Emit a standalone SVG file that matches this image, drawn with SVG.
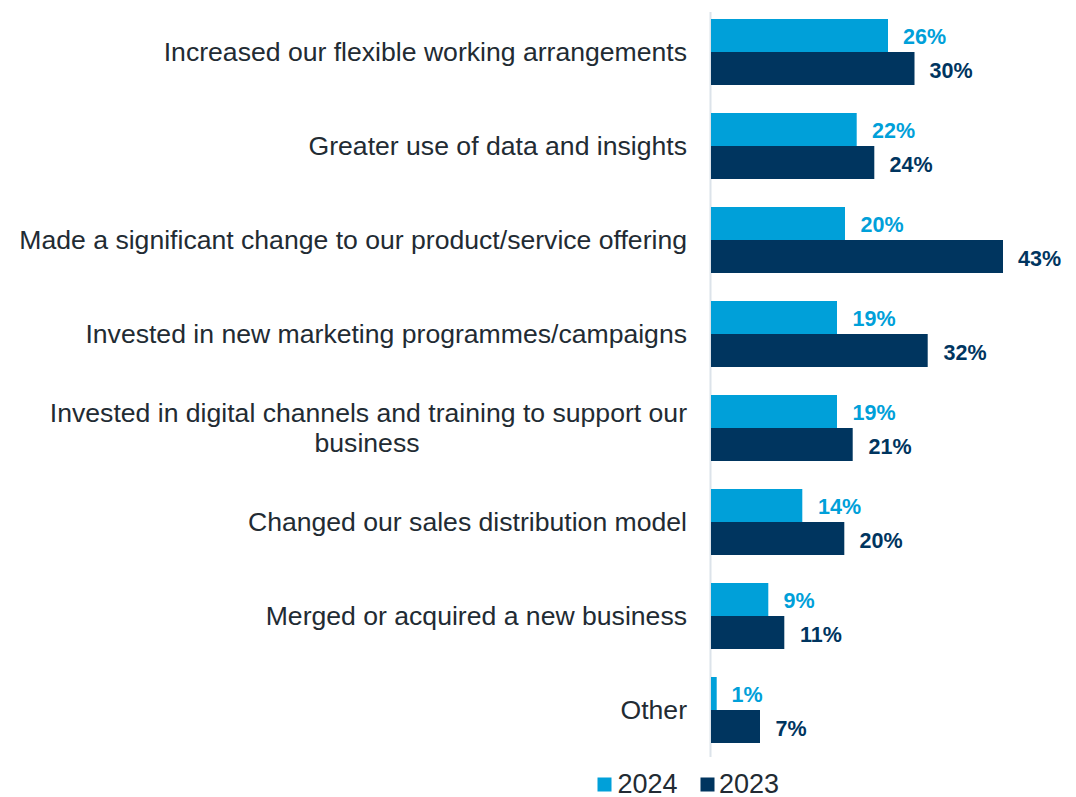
<svg xmlns="http://www.w3.org/2000/svg" width="1076" height="797" viewBox="0 0 1076 797">
<style>
.cat{font-family:"Liberation Sans",Arial,sans-serif;font-size:26.6px;fill:#222b33;text-anchor:end}
.val{font-family:"Liberation Sans",Arial,sans-serif;font-size:21.5px;font-weight:bold}
.v24{fill:#00a0d9}
.v23{fill:#00355f}
.b24{fill:#00a0d9}
.b23{fill:#00355f}
.leg{font-family:"Liberation Sans",Arial,sans-serif;font-size:27px;fill:#222b33}
</style>
<rect width="1076" height="797" fill="#ffffff"/>
<g id="axis"><line x1="710.5" y1="12" x2="710.5" y2="757" stroke="#dce3ea" stroke-width="2"/></g>
<g id="row1">
<text class="cat" x="687" y="60.7">Increased our flexible working arrangements</text>
<rect class="b24" x="711" y="19" width="177" height="33"/>
<rect class="b23" x="711" y="52" width="203.5" height="33"/>
<text class="val v24" x="903" y="44">26%</text>
<text class="val v23" x="929.5" y="77.5">30%</text>
</g>
<g id="row2">
<text class="cat" x="687" y="154.7">Greater use of data and insights</text>
<rect class="b24" x="711" y="113" width="145.7" height="33"/>
<rect class="b23" x="711" y="146" width="163.3" height="33"/>
<text class="val v24" x="872" y="138">22%</text>
<text class="val v23" x="889.5" y="171.5">24%</text>
</g>
<g id="row3">
<text class="cat" x="687" y="248.7">Made a significant change to our product/service offering</text>
<rect class="b24" x="711" y="207" width="134" height="33"/>
<rect class="b23" x="711" y="240" width="292" height="33"/>
<text class="val v24" x="860.5" y="232">20%</text>
<text class="val v23" x="1018" y="265.5">43%</text>
</g>
<g id="row4">
<text class="cat" x="687" y="342.7">Invested in new marketing programmes/campaigns</text>
<rect class="b24" x="711" y="301" width="126" height="33"/>
<rect class="b23" x="711" y="334" width="216.7" height="33"/>
<text class="val v24" x="852.5" y="326">19%</text>
<text class="val v23" x="943.5" y="359.5">32%</text>
</g>
<g id="row5">
<text class="cat" x="687" y="421.7">Invested in digital channels and training to support our</text>
<text class="cat" x="367" y="452.3" style="text-anchor:middle">business</text>
<rect class="b24" x="711" y="395" width="126" height="33"/>
<rect class="b23" x="711" y="428" width="141.7" height="33"/>
<text class="val v24" x="852.5" y="420">19%</text>
<text class="val v23" x="868.5" y="453.5">21%</text>
</g>
<g id="row6">
<text class="cat" x="687" y="530.7">Changed our sales distribution model</text>
<rect class="b24" x="711" y="489" width="91.3" height="33"/>
<rect class="b23" x="711" y="522" width="133.3" height="33"/>
<text class="val v24" x="818" y="514">14%</text>
<text class="val v23" x="859.5" y="547.5">20%</text>
</g>
<g id="row7">
<text class="cat" x="687" y="624.7">Merged or acquired a new business</text>
<rect class="b24" x="711" y="583" width="57.3" height="33"/>
<rect class="b23" x="711" y="616" width="73.3" height="33"/>
<text class="val v24" x="783.5" y="608">9%</text>
<text class="val v23" x="800" y="641.5">11%</text>
</g>
<g id="row8">
<text class="cat" x="687" y="718.7">Other</text>
<rect class="b24" x="711" y="677" width="5.7" height="33"/>
<rect class="b23" x="711" y="710" width="49" height="33"/>
<text class="val v24" x="731.5" y="702">1%</text>
<text class="val v23" x="775.5" y="735.5">7%</text>
</g>
<g id="legend">
<rect class="b24" x="597.5" y="777.5" width="14" height="14"/>
<text class="leg" x="617.5" y="793">2024</text>
<rect class="b23" x="700.5" y="777.5" width="14" height="14"/>
<text class="leg" x="719" y="793">2023</text>
</g>
</svg>
